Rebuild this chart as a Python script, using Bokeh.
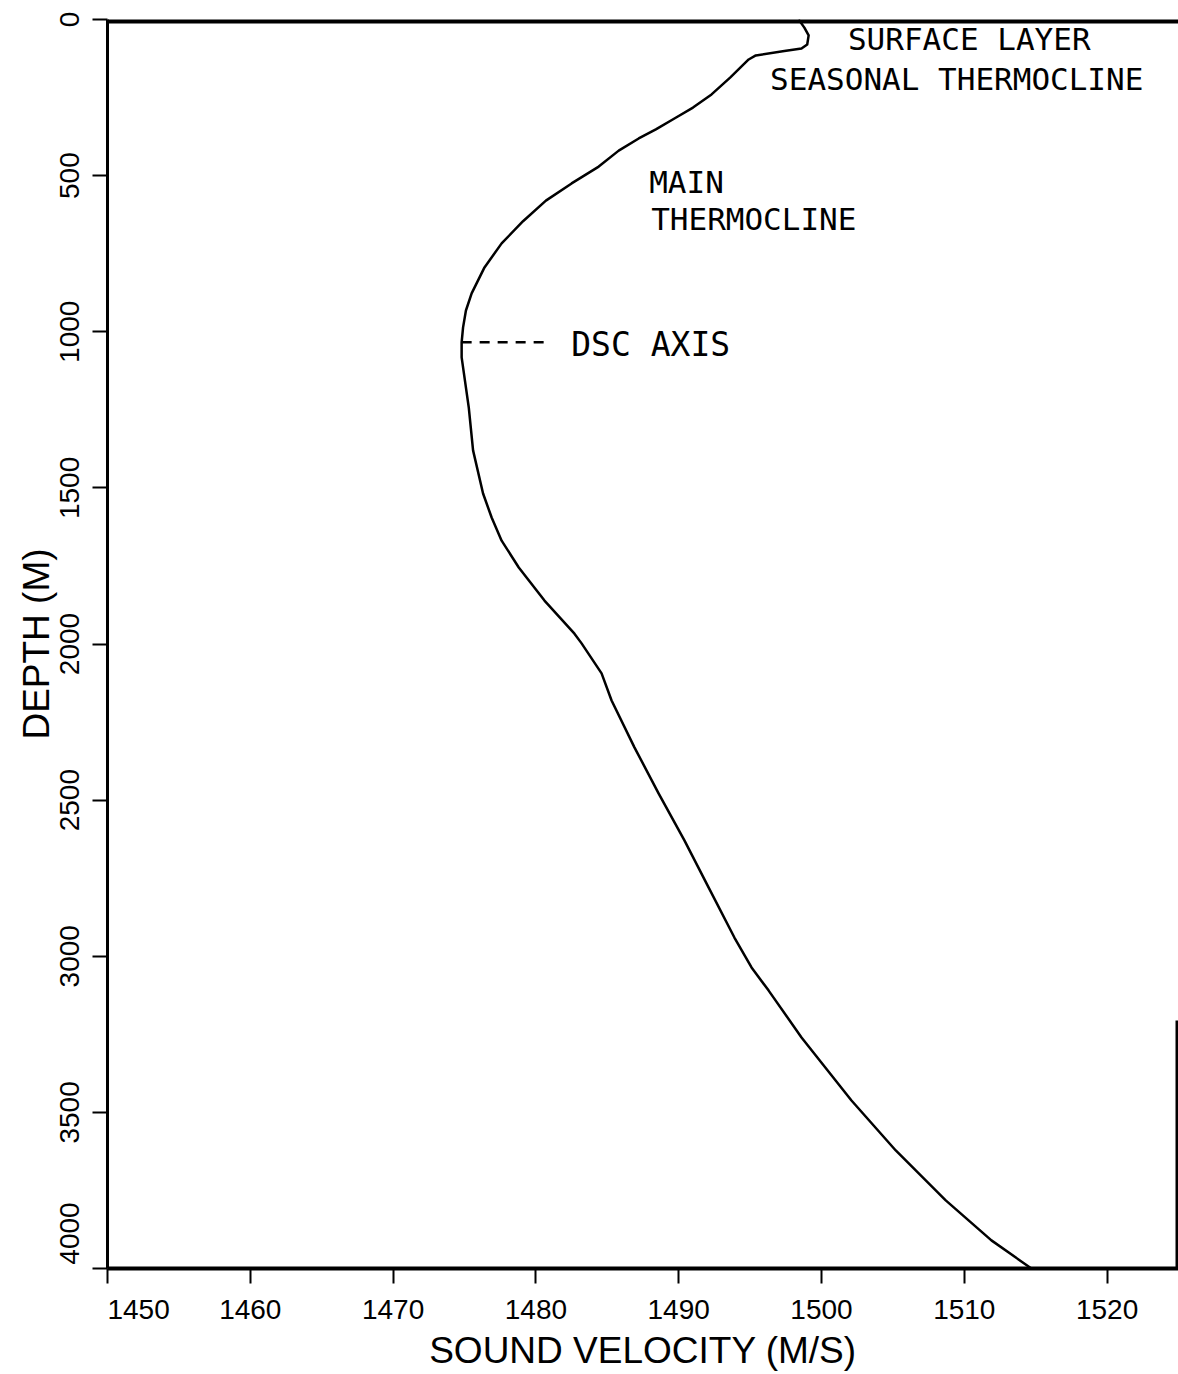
from bokeh.plotting import figure
from bokeh.models import Range1d, FixedTicker, Span
from bokeh.core.properties import value
from bokeh.embed import file_html
from bokeh.resources import INLINE

# Sound velocity profile (m/s) against depth (m)
velocity = [1498.4, 1498.8, 1499.1, 1499.0, 1498.6, 1497.4, 1495.4, 1494.9, 1493.6,
            1492.3, 1491.0, 1489.7, 1488.4, 1487.2, 1485.8, 1484.4, 1482.5, 1480.7,
            1479.1, 1477.6, 1476.4, 1475.5, 1475.1, 1474.9, 1474.8, 1474.8, 1475.3,
            1475.6, 1476.3, 1476.9, 1477.6, 1478.8, 1480.6, 1482.7, 1483.2, 1484.6,
            1485.3, 1486.9, 1488.6, 1490.4, 1492.1, 1493.9, 1495.1, 1496.3,
            1498.6, 1502.1, 1505.2, 1508.7, 1511.9, 1514.7]
depth = [0, 26, 51, 80, 93, 101, 115, 128, 186,
         240, 282, 317, 352, 381, 420, 471, 525, 580,
         646, 717, 794, 877, 932, 986, 1034, 1082, 1243,
         1380, 1518, 1595, 1669, 1755, 1861, 1967, 1998, 2094,
         2181, 2331, 2479, 2629, 2780, 2940, 3036, 3110,
         3260, 3462, 3622, 3782, 3910, 4000]

# Axis ticks
velocity_ticks = [1450, 1460, 1470, 1480, 1490, 1500, 1510, 1520]
depth_ticks = [0, 500, 1000, 1500, 2000, 2500, 3000, 3500, 4000]

# Sound channel axis
dsc_depth = 1034
dsc_velocity_min = 1474.8

mono = value("DejaVu Sans Mono")
NB = "\u00a0"

p = figure(width=1178, height=1374,
           x_range=Range1d(1450, 1525), y_range=Range1d(4000, 0),
           output_backend="svg", toolbar_location=None,
           min_border_left=107, min_border_right=0,
           min_border_top=19, min_border_bottom=106)
p.outline_line_color = None
p.xgrid.visible = False
p.ygrid.visible = False
p.background_fill_color = "white"
p.border_fill_color = "white"

# bottom axis
xa = p.xaxis[0]
xa.ticker = FixedTicker(ticks=velocity_ticks)
xa.major_label_overrides = {1450: NB * 8 + "1450"}  # keep the corner label clear of the depth axis
xa.minor_tick_line_color = None
xa.axis_line_width = 4
xa.major_tick_line_width = 2
xa.major_tick_in = 0
xa.major_tick_out = 15
xa.major_label_standoff = 10
xa.major_label_text_font = "Liberation Sans"
xa.major_label_text_font_size = "28px"
xa.major_label_text_color = "black"
xa.axis_label = "SOUND VELOCITY (M/S)"
xa.axis_label_text_font = "Liberation Sans"
xa.axis_label_text_font_size = "37px"
xa.axis_label_text_font_style = "normal"
xa.axis_label_standoff = 2
xa.axis_label_text_color = "black"

# left axis
ya = p.yaxis[0]
ya.ticker = FixedTicker(ticks=depth_ticks)
ya.major_label_overrides = {4000: NB * 9 + "4000"}
ya.minor_tick_line_color = None
ya.axis_line_width = 3
ya.major_tick_line_width = 2
ya.major_tick_in = 0
ya.major_tick_out = 15
ya.major_label_orientation = "vertical"
ya.major_label_standoff = 8
ya.major_label_text_font = "Liberation Sans"
ya.major_label_text_font_size = "28px"
ya.major_label_text_color = "black"
ya.axis_label = "DEPTH (M)"
ya.axis_label_text_font = "Liberation Sans"
ya.axis_label_text_font_size = "37px"
ya.axis_label_text_font_style = "normal"
ya.axis_label_standoff = -6
ya.axis_label_text_color = "black"

# frame: top edge and lower part of the right edge
p.add_layout(Span(location=0, dimension="width", line_color="black", line_width=8))
p.segment(x0=[1525], y0=[3206], x1=[1525], y1=[4000], line_color="black", line_width=6)

# profile
p.line(velocity, depth, line_color="black", line_width=2.5, line_join="round")

# deep sound channel marker
p.segment(x0=[dsc_velocity_min], y0=[dsc_depth], x1=[1480.6], y1=[dsc_depth],
          line_color="black", line_width=2.5, line_dash="10 8")

# layer annotations
p.text(x=[1501.85], y=[64], text=["SURFACE LAYER"], text_font=mono,
       text_font_size="31px", text_baseline="middle", text_align="left", text_color="black")
p.text(x=[1496.4], y=[192], text=["SEASONAL THERMOCLINE"], text_font=mono,
       text_font_size="31px", text_baseline="middle", text_align="left", text_color="black")
p.text(x=[1487.93], y=[519], text=["MAIN"], text_font=mono,
       text_font_size="31px", text_baseline="middle", text_align="left", text_color="black")
p.text(x=[1488.07], y=[640], text=["THERMOCLINE"], text_font=mono,
       text_font_size="31px", text_baseline="middle", text_align="left", text_color="black")
p.text(x=[1482.47], y=[1041], text=["DSC AXIS"], text_font=mono,
       text_font_size="33px", text_baseline="middle", text_align="left", text_color="black")

open("out.html", "w").write(file_html(p, INLINE))
